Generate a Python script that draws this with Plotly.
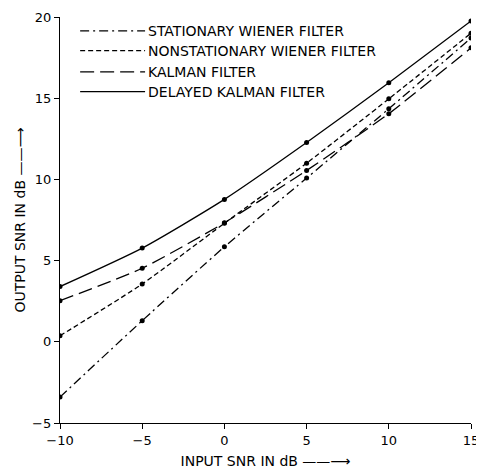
import plotly.graph_objects as go

input_snr = [-10, -5, 0, 5, 10, 15]
stationary_wiener = [-3.4, 1.3, 5.85, 10.08, 14.35, 18.7]
nonstationary_wiener = [0.37, 3.56, 7.3, 11.0, 14.96, 19.0]
kalman = [2.53, 4.53, 7.33, 10.55, 14.05, 18.1]
delayed_kalman = [3.4, 5.77, 8.77, 12.27, 15.95, 19.75]

names = ["STATIONARY WIENER FILTER", "NONSTATIONARY WIENER FILTER",
         "KALMAN FILTER", "DELAYED KALMAN FILTER"]
series = [stationary_wiener, nonstationary_wiener, kalman, delayed_kalman]
dashes = ["9px,4px,2px,4px", "5px,3px", "14px,6px", "solid"]

FONT = "DejaVu Sans"
fig = go.Figure()
for name, ys, dash in zip(names, series, dashes):
    fig.add_trace(go.Scatter(
        x=input_snr, y=ys, name=name, mode="lines+markers",
        line=dict(color="black", width=1.3, dash=dash, shape="spline", smoothing=0.6),
        marker=dict(color="black", size=5),
        showlegend=False,
    ))

# manual legend
leg_y = [0.966, 0.917, 0.865, 0.816]
for name, dash, yy in zip(names, dashes, leg_y):
    fig.add_shape(type="line", xref="paper", yref="paper",
                  x0=0.049, x1=0.207, y0=yy, y1=yy,
                  line=dict(color="black", width=1.3, dash=dash))
    fig.add_annotation(xref="paper", yref="paper", x=0.209, y=yy,
                       text=name, showarrow=False, xanchor="left", yanchor="middle",
                       font=dict(family=FONT, size=14, color="black"))

fig.update_layout(
    width=484, height=468,
    margin=dict(l=52, r=21, t=9, b=53, autoexpand=False),
    paper_bgcolor="white", plot_bgcolor="white",
    font=dict(family=FONT, size=13, color="black"),
    showlegend=False,
)
fig.update_xaxes(range=[-10, 15], tickvals=[-10, -5, 0, 5, 10, 15],
                 showgrid=False, zeroline=False, showline=True, linecolor="black",
                 linewidth=1.3, ticks="outside", ticklen=5, tickcolor="black",
                 tickfont=dict(family=FONT, size=13),
                 title=dict(text="INPUT SNR IN dB ——⟶", standoff=9,
                            font=dict(family=FONT, size=14)))
fig.update_yaxes(range=[-5, 20], tickvals=[-5, 0, 5, 10, 15, 20],
                 showgrid=False, zeroline=False, showline=True, linecolor="black",
                 linewidth=1.3, ticks="outside", ticklen=5, tickcolor="black",
                 tickfont=dict(family=FONT, size=13),
                 title=dict(text="OUTPUT SNR IN dB ——⟶", standoff=3,
                            font=dict(family=FONT, size=14)))

fig.write_html("out.html")
